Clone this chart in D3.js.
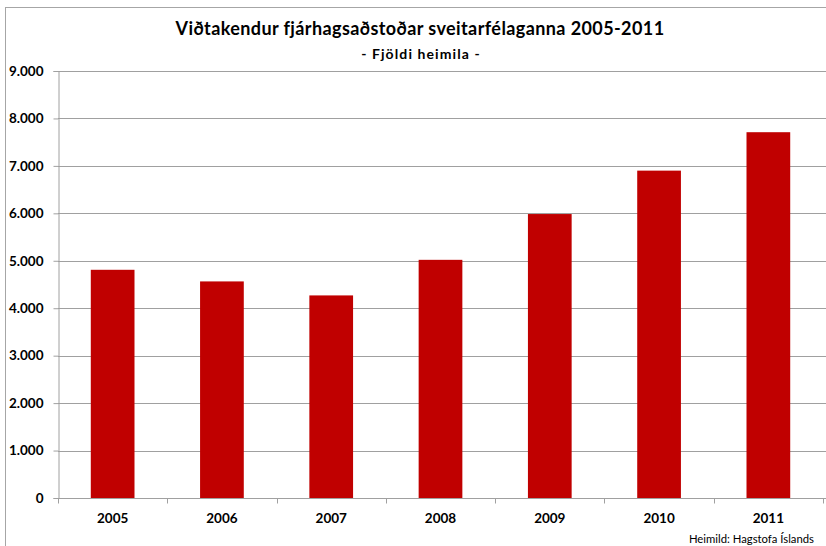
<!DOCTYPE html>
<html>
<head>
<meta charset="utf-8">
<script src="https://cdn.jsdelivr.net/npm/d3@7"></script>
<style>
  body { margin: 0; background: #fff; }
  svg { display: block; font-family: Lato, "Open Sans", sans-serif; }
</style>
</head>
<body>
<div class="chart"></div>
<script>
var years = ["2005", "2006", "2007", "2008", "2009", "2010", "2011"];
var households = [4810, 4565, 4270, 5020, 5985, 6900, 7710];
var yTicks = [0, 1000, 2000, 3000, 4000, 5000, 6000, 7000, 8000, 9000];

var width = 826, height = 546;
var margin = { top: 71, right: 3, bottom: 48, left: 58 };

var svg = d3.select(".chart")
    .append("svg")
    .attr("width", width)
    .attr("height", height);

// outer chart frame
svg.append("rect")
    .attr("x", 5.5)
    .attr("y", 7.5)
    .attr("width", width + 10)
    .attr("height", height + 10)
    .attr("fill", "none")
    .attr("stroke", "#a6a6a6");

var x = d3.scaleBand()
    .domain(years)
    .range([margin.left, width - margin.right])
    .paddingInner(0.6)
    .paddingOuter(0.3);

var y = d3.scaleLinear()
    .domain([0, 9000])
    .range([height - margin.bottom, margin.top]);

var fmt = function (d) {
    return d3.format(",")(d).replace(/,/g, ".");
};

// gridlines
svg.append("g")
    .selectAll("line")
    .data(yTicks.slice(1))
    .enter().append("line")
    .attr("x1", margin.left)
    .attr("x2", width)
    .attr("y1", function (d) { return Math.round(y(d)) + 0.5; })
    .attr("y2", function (d) { return Math.round(y(d)) + 0.5; })
    .attr("stroke", "#a0a0a0");

// bars
svg.append("g")
    .selectAll("rect")
    .data(households)
    .enter().append("rect")
    .attr("x", function (d, i) { return x(years[i]); })
    .attr("y", function (d) { return y(d); })
    .attr("width", x.bandwidth())
    .attr("height", function (d) { return y(0) - y(d); })
    .attr("fill", "#c00000");

// y axis
var yAxis = svg.append("g")
    .attr("transform", "translate(" + (margin.left + 0.5) + ",0)")
    .call(d3.axisLeft(y).tickValues(yTicks).tickFormat(fmt).tickSize(5).tickPadding(10));

// x axis
var step = x.step();
var xAxis = svg.append("g")
    .attr("transform", "translate(0," + (Math.round(y(0)) + 0.5) + ")")
    .call(d3.axisBottom(x).tickSize(0).tickPadding(15));

xAxis.select(".domain").attr("d", "M" + margin.left + ",0H" + width);
xAxis.selectAll(".sep")
    .data(d3.range(years.length + 1))
    .enter().append("line")
    .attr("class", "sep")
    .attr("x1", function (i) { return Math.round(margin.left + i * step) + 0.5; })
    .attr("x2", function (i) { return Math.round(margin.left + i * step) + 0.5; })
    .attr("y1", 0)
    .attr("y2", 5)
    .attr("stroke", "#a0a0a0");

[yAxis, xAxis].forEach(function (ax) {
    ax.selectAll(".domain, .tick line").attr("stroke", "#a0a0a0");
    ax.selectAll("text")
        .attr("fill", "#000")
        .style("font-size", "13.5px")
        .style("font-weight", "bold")
        .style("font-family", "Lato, 'Open Sans', sans-serif");
});

// titles
svg.append("text")
    .attr("x", 420)
    .attr("y", 35)
    .attr("text-anchor", "middle")
    .style("font-size", "18px")
    .style("font-weight", "bold")
    .style("letter-spacing", "0.4px")
    .text("Viðtakendur fjárhagsaðstoðar sveitarfélaganna 2005-2011");

svg.append("text")
    .attr("x", 421)
    .attr("y", 59)
    .attr("text-anchor", "middle")
    .style("font-size", "14px")
    .style("font-weight", "bold")
    .style("letter-spacing", "1.1px")
    .text("- Fjöldi heimila -");

svg.append("text")
    .attr("x", 814)
    .attr("y", 543)
    .attr("text-anchor", "end")
    .style("font-size", "11.3px")
    .text("Heimild: Hagstofa Íslands");
</script>
</body>
</html>
